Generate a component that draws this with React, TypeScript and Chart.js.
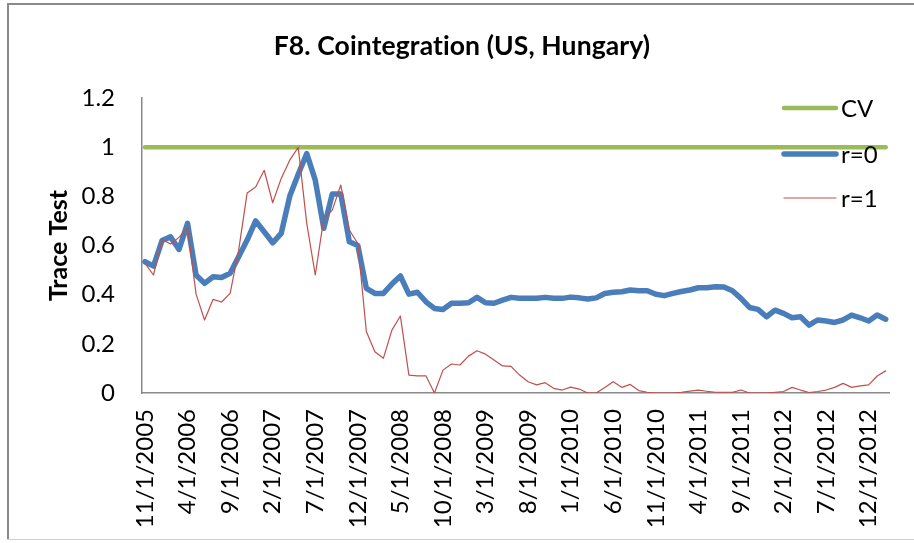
import React, { useEffect, useRef } from "react";
import { Chart, registerables } from "chart.js";

Chart.register(...registerables);

// ---- data ----
const startYear = 2005;
const startMonth = 11; // November
const monthLabels: string[] = [];
for (let i = 0; i < 88; i++) {
  const m0 = startMonth - 1 + i;
  const y = startYear + Math.floor(m0 / 12);
  const m = (m0 % 12) + 1;
  monthLabels.push(`${m}/1/${y}`);
}
const tickEvery = 5;

const cv: number[] = new Array(88).fill(1);

const r0: number[] = [
  0.534, 0.516, 0.62, 0.635, 0.584, 0.69, 0.48, 0.446, 0.473, 0.47,
  0.487, 0.554, 0.622, 0.70, 0.656, 0.611, 0.649, 0.80, 0.89, 0.974,
  0.866, 0.67, 0.81, 0.81, 0.615, 0.60, 0.426, 0.405, 0.405, 0.443,
  0.476, 0.402, 0.41, 0.371, 0.344, 0.34, 0.365, 0.365, 0.367, 0.389,
  0.367, 0.365, 0.378, 0.389, 0.385, 0.385, 0.385, 0.389, 0.385, 0.385,
  0.39, 0.387, 0.382, 0.387, 0.405, 0.41, 0.412, 0.419, 0.416, 0.416,
  0.402, 0.396, 0.405, 0.413, 0.419, 0.428, 0.428, 0.432, 0.431, 0.416,
  0.385, 0.348, 0.34, 0.31, 0.337, 0.324, 0.306, 0.31, 0.276, 0.297,
  0.293, 0.287, 0.297, 0.317, 0.306, 0.293, 0.317, 0.30,
];

const r1: number[] = [
  0.527, 0.48, 0.625, 0.606, 0.633, 0.674, 0.402, 0.297, 0.381, 0.37,
  0.405, 0.58, 0.814, 0.838, 0.906, 0.774, 0.873, 0.947, 0.999, 0.69,
  0.48, 0.71, 0.744, 0.846, 0.663, 0.608, 0.25, 0.168, 0.141, 0.256,
  0.313, 0.073, 0.07, 0.07, 0.0, 0.093, 0.118, 0.114, 0.15, 0.172,
  0.158, 0.134, 0.11, 0.108, 0.073, 0.046, 0.033, 0.042, 0.019, 0.012,
  0.024, 0.016, 0.0, 0.0, 0.022, 0.046, 0.023, 0.035, 0.01, 0.003,
  0.0, 0.0, 0.0, 0.003, 0.008, 0.012, 0.007, 0.003, 0.003, 0.003,
  0.012, 0.0, 0.0, 0.0, 0.003, 0.006, 0.023, 0.012, 0.002, 0.006,
  0.012, 0.023, 0.039, 0.023, 0.029, 0.033, 0.069, 0.09,
];

const yTicks: number[] = [0, 0.2, 0.4, 0.6, 0.8, 1, 1.2];

const seriesNames = ["CV", "r=0", "r=1"];
const seriesColors = ["#9BBB59", "#4A7EBB", "#C0504D"];
const seriesWidths = [4.5, 5.5, 1.2];

const FONT = "Lato, 'Open Sans', sans-serif";

const toPts = (arr: number[]) => arr.map((v, i) => ({ x: i, y: v }));

export default function App() {
  const ref = useRef<HTMLCanvasElement | null>(null);

  useEffect(() => {
    if (!ref.current) return;

    const decor = {
      id: "decor",
      beforeDraw(chart: any) {
        const ctx = chart.ctx;
        ctx.save();
        ctx.fillStyle = "#ffffff";
        ctx.fillRect(0, 0, chart.width, chart.height);
        // outer frame
        ctx.fillStyle = "#8a8a8a";
        ctx.fillRect(7, 3, chart.width - 7, 2);
        ctx.fillRect(7, 3, 2, 537);
        ctx.fillStyle = "#d0d0d0";
        ctx.fillRect(7, 539, chart.width - 7, 1);
        ctx.restore();
      },
      afterDraw(chart: any) {
        const ctx = chart.ctx;
        ctx.save();
        // title
        ctx.fillStyle = "#000";
        ctx.font = `bold 26.5px ${FONT}`;
        ctx.textAlign = "center";
        ctx.textBaseline = "middle";
        try { (ctx as any).letterSpacing = "0.1px"; } catch (e) { /* ignore */ }
        ctx.fillText("F8. Cointegration (US, Hungary)", 462, 46);
        try { (ctx as any).letterSpacing = "0px"; } catch (e) { /* ignore */ }
        // legend
        const ys = [108, 154, 198];
        ctx.font = `24px ${FONT}`;
        ctx.textAlign = "left";
        for (let k = 0; k < 3; k++) {
          ctx.strokeStyle = seriesColors[k];
          ctx.lineWidth = seriesWidths[k];
          ctx.lineCap = "round";
          ctx.beginPath();
          ctx.moveTo(784, ys[k]);
          ctx.lineTo(836, ys[k]);
          ctx.stroke();
          ctx.fillStyle = "#000";
          ctx.fillText(seriesNames[k], 841, ys[k] + 1);
        }
        ctx.restore();
      },
    };

    const datasets = [cv, r0, r1].map((arr, k) => ({
      label: seriesNames[k],
      data: toPts(arr),
      borderColor: seriesColors[k],
      backgroundColor: seriesColors[k],
      borderWidth: seriesWidths[k],
      pointRadius: 0,
      tension: 0,
      borderJoinStyle: "round" as const,
      borderCapStyle: "round" as const,
      order: 3 - k,
    }));

    const chart = new Chart(ref.current, {
      type: "line",
      data: { datasets },
      plugins: [decor],
      options: {
        animation: false,
        responsive: false,
        devicePixelRatio: 1,
        layout: { padding: { top: 98, right: 19, left: 0, bottom: 0 } },
        plugins: {
          legend: { display: false },
          title: { display: false },
          tooltip: { enabled: false },
        },
        scales: {
          x: {
            type: "linear",
            min: -0.35,
            max: 87.5,
            grid: { display: false, drawTicks: false },
            border: { display: true, color: "#8a8a8a", width: 1.5 },
            afterBuildTicks: (s: any) => {
              s.ticks = monthLabels
                .map((_, i) => i)
                .filter((i) => i % tickEvery === 0)
                .map((i) => ({ value: i }));
            },
            afterFit: (s: any) => {
              s.height = 150;
            },
            ticks: {
              autoSkip: false,
              minRotation: 90,
              maxRotation: 90,
              padding: 16,
              color: "#000",
              font: { family: FONT, size: 24 },
              callback: (v: any) => monthLabels[Math.round(Number(v))] ?? "",
            },
          },
          y: {
            min: 0,
            max: 1.2,
            grid: { display: false, drawTicks: false },
            border: { display: true, color: "#8a8a8a", width: 1.5 },
            afterBuildTicks: (s: any) => {
              s.ticks = yTicks.map((v) => ({ value: v }));
            },
            afterFit: (s: any) => {
              s.width = 142;
            },
            ticks: {
              padding: 27,
              color: "#000",
              font: { family: FONT, size: 24 },
              callback: (v: any) => String(parseFloat(Number(v).toFixed(1))),
            },
            title: {
              display: true,
              text: "Trace Test",
              color: "#000",
              font: { family: FONT, size: 25, weight: "bold" },
              padding: { top: 44, bottom: 0 },
            },
          },
        },
      },
    });

    return () => chart.destroy();
  }, []);

  return (
    <div style={{ position: "fixed", left: 0, top: 0, width: 914, height: 543, background: "#fff" }}>
      <canvas ref={ref} width={914} height={543} style={{ width: 914, height: 543, display: "block" }} />
    </div>
  );
}
